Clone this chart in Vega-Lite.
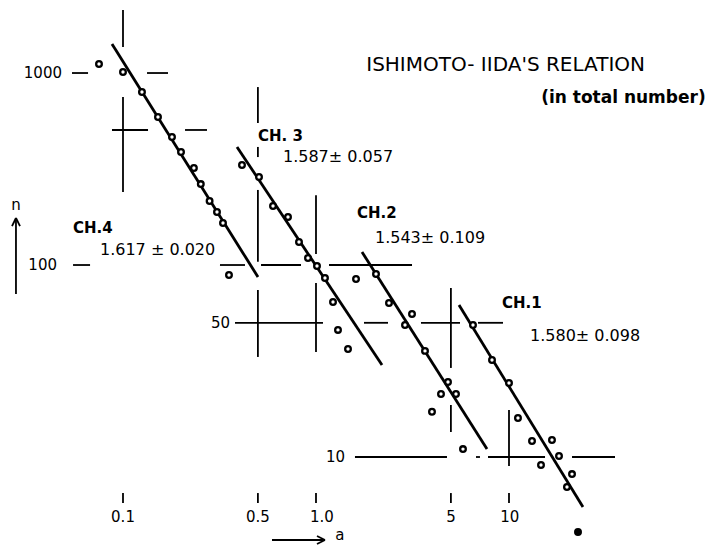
{
  "$schema": "https://vega.github.io/schema/vega-lite/v6.json",
  "width": 710,
  "height": 546,
  "autosize": {"type": "none"},
  "padding": 0,
  "background": "white",
  "config": {"view": {"stroke": null}},
  "datasets": {
    "grid": [
      {"a1": 0.1, "n1": 2128, "a2": 0.1, "n2": 1366},
      {"a1": 0.1, "n1": 750, "a2": 0.1, "n2": 240},
      {"a1": 0.0544, "n1": 1000, "a2": 0.0659, "n2": 1000},
      {"a1": 0.1332, "n1": 1000, "a2": 0.1711, "n2": 1000},
      {"a1": 0.0877, "n1": 505, "a2": 0.1348, "n2": 505},
      {"a1": 0.2096, "n1": 505, "a2": 0.2724, "n2": 505},
      {"a1": 0.5, "n1": 845, "a2": 0.5, "n2": 549},
      {"a1": 0.5, "n1": 412, "a2": 0.5, "n2": 365},
      {"a1": 0.5, "n1": 246, "a2": 0.5, "n2": 104},
      {"a1": 0.5, "n1": 74.1, "a2": 0.5, "n2": 33.2},
      {"a1": 1, "n1": 231, "a2": 1, "n2": 114},
      {"a1": 1, "n1": 80.6, "a2": 1, "n2": 35.2},
      {"a1": 0.0551, "n1": 100, "a2": 0.0675, "n2": 100},
      {"a1": 0.318, "n1": 100, "a2": 0.4286, "n2": 100},
      {"a1": 0.519, "n1": 100, "a2": 0.836, "n2": 100},
      {"a1": 1.168, "n1": 100, "a2": 3.144, "n2": 100},
      {"a1": 0.3805, "n1": 50, "a2": 1.087, "n2": 50},
      {"a1": 1.773, "n1": 50, "a2": 2.361, "n2": 50},
      {"a1": 3.499, "n1": 50, "a2": 5.574, "n2": 50},
      {"a1": 6.909, "n1": 50, "a2": 9.309, "n2": 50},
      {"a1": 5, "n1": 75.9, "a2": 5, "n2": 29.1},
      {"a1": 5, "n1": 18.66, "a2": 5, "n2": 13.5},
      {"a1": 10, "n1": 17.57, "a2": 10, "n2": 8.98},
      {"a1": 1.592, "n1": 10, "a2": 4.772, "n2": 10},
      {"a1": 6.745, "n1": 10, "a2": 7.073, "n2": 10},
      {"a1": 7.785, "n1": 10, "a2": 15.37, "n2": 10},
      {"a1": 21.21, "n1": 10, "a2": 35.42, "n2": 10},
      {"a1": 0.1, "n1": 6.49, "a2": 0.1, "n2": 5.76},
      {"a1": 0.5, "n1": 6.49, "a2": 0.5, "n2": 5.76},
      {"a1": 1, "n1": 6.49, "a2": 1, "n2": 5.76},
      {"a1": 5, "n1": 6.49, "a2": 5, "n2": 5.76},
      {"a1": 10, "n1": 6.49, "a2": 10, "n2": 5.76},
      {"a1": 0.02789, "n1": 175.7, "a2": 0.02789, "n2": 70.6},
      {"a1": 0.02789, "n1": 175.7, "a2": 0.0266, "n2": 159.6},
      {"a1": 0.02789, "n1": 175.7, "a2": 0.02926, "n2": 159.6},
      {"a1": 0.5916, "n1": 3.696, "a2": 1.113, "n2": 3.696},
      {"a1": 1.113, "n1": 3.696, "a2": 1.012, "n2": 3.877},
      {"a1": 1.113, "n1": 3.696, "a2": 1.012, "n2": 3.523}
    ],
    "fits": [
      {"ch": "CH.4", "a1": 0.0877, "n1": 1416, "a2": 0.5005, "n2": 86.6},
      {"ch": "CH.3", "a1": 0.3897, "n1": 411.7, "a2": 2.198, "n2": 30.15},
      {"ch": "CH.2", "a1": 1.731, "n1": 116.9, "a2": 7.691, "n2": 11.0},
      {"ch": "CH.1", "a1": 5.508, "n1": 61.9, "a2": 24.17, "n2": 5.49}
    ],
    "pts": [
      {"ch": "CH.4", "a": 0.0751, "n": 1114, "kind": "open"},
      {"ch": "CH.4", "a": 0.1, "n": 1012, "kind": "open"},
      {"ch": "CH.4", "a": 0.1254, "n": 796, "kind": "open"},
      {"ch": "CH.4", "a": 0.1518, "n": 590, "kind": "open"},
      {"ch": "CH.4", "a": 0.1794, "n": 464, "kind": "open"},
      {"ch": "CH.4", "a": 0.1998, "n": 387.7, "kind": "open"},
      {"ch": "CH.4", "a": 0.2330, "n": 320, "kind": "open"},
      {"ch": "CH.4", "a": 0.2530, "n": 264, "kind": "open"},
      {"ch": "CH.4", "a": 0.2810, "n": 215.4, "kind": "open"},
      {"ch": "CH.4", "a": 0.3069, "n": 188.8, "kind": "open"},
      {"ch": "CH.4", "a": 0.3297, "n": 165.5, "kind": "open"},
      {"ch": "CH.4", "a": 0.3541, "n": 88.7, "kind": "open"},
      {"ch": "CH.3", "a": 0.4136, "n": 331.7, "kind": "open"},
      {"ch": "CH.3", "a": 0.5067, "n": 287.3, "kind": "open"},
      {"ch": "CH.3", "a": 0.5988, "n": 202.9, "kind": "open"},
      {"ch": "CH.3", "a": 0.716, "n": 177.8, "kind": "open"},
      {"ch": "CH.3", "a": 0.8164, "n": 131.8, "kind": "open"},
      {"ch": "CH.3", "a": 0.9089, "n": 108.8, "kind": "open"},
      {"ch": "CH.3", "a": 1.012, "n": 98.8, "kind": "open"},
      {"ch": "CH.3", "a": 1.113, "n": 85.6, "kind": "open"},
      {"ch": "CH.3", "a": 1.225, "n": 64.2, "kind": "open"},
      {"ch": "CH.3", "a": 1.3, "n": 45.9, "kind": "open"},
      {"ch": "CH.3", "a": 1.465, "n": 36.5, "kind": "open"},
      {"ch": "CH.2", "a": 1.612, "n": 84.6, "kind": "open"},
      {"ch": "CH.2", "a": 2.046, "n": 89.8, "kind": "open"},
      {"ch": "CH.2", "a": 2.389, "n": 63.4, "kind": "open"},
      {"ch": "CH.2", "a": 3.144, "n": 55.6, "kind": "open"},
      {"ch": "CH.2", "a": 2.892, "n": 48.7, "kind": "open"},
      {"ch": "CH.2", "a": 3.671, "n": 35.7, "kind": "open"},
      {"ch": "CH.2", "a": 4.83, "n": 24.6, "kind": "open"},
      {"ch": "CH.2", "a": 4.443, "n": 21.3, "kind": "open"},
      {"ch": "CH.2", "a": 5.313, "n": 21.3, "kind": "open"},
      {"ch": "CH.2", "a": 3.99, "n": 17.2, "kind": "open"},
      {"ch": "CH.2", "a": 5.776, "n": 11.0, "kind": "open"},
      {"ch": "CH.1", "a": 6.508, "n": 48.7, "kind": "open"},
      {"ch": "CH.1", "a": 8.165, "n": 32.0, "kind": "open"},
      {"ch": "CH.1", "a": 10.0, "n": 24.3, "kind": "open"},
      {"ch": "CH.1", "a": 11.13, "n": 15.97, "kind": "open"},
      {"ch": "CH.1", "a": 13.16, "n": 12.12, "kind": "open"},
      {"ch": "CH.1", "a": 16.7, "n": 12.26, "kind": "open"},
      {"ch": "CH.1", "a": 18.16, "n": 10.12, "kind": "open"},
      {"ch": "CH.1", "a": 14.65, "n": 9.08, "kind": "open"},
      {"ch": "CH.1", "a": 21.21, "n": 8.15, "kind": "open"},
      {"ch": "CH.1", "a": 19.97, "n": 6.98, "kind": "open"},
      {"ch": "CH.1", "a": 22.78, "n": 4.07, "kind": "solid"}
    ],
    "ylabels": [
      {"a": 0.0483, "n": 1000, "text": "1000"},
      {"a": 0.0455, "n": 100, "text": "100"},
      {"a": 0.3584, "n": 50, "text": "50"},
      {"a": 1.413, "n": 10, "text": "10"}
    ],
    "xlabels": [
      {"a": 0.1, "n": 4.87, "text": "0.1"},
      {"a": 0.5, "n": 4.87, "text": "0.5"},
      {"a": 1.074, "n": 4.87, "text": "1.0"},
      {"a": 5, "n": 4.87, "text": "5"},
      {"a": 10.1, "n": 4.87, "text": "10"},
      {"a": 0.02789, "n": 205.4, "text": "n"},
      {"a": 1.33, "n": 3.925, "text": "a"}
    ],
    "chnames": [
      {"a": 0.0551, "n": 155.8, "text": "CH.4"},
      {"a": 0.5005, "n": 469.8, "text": "CH. 3"},
      {"a": 1.631, "n": 186.6, "text": "CH.2"},
      {"a": 9.2, "n": 63.4, "text": "CH.1"}
    ],
    "slopes": [
      {"a": 0.076, "n": 119.7, "text": "1.617 ± 0.020"},
      {"a": 0.6745, "n": 365, "text": "1.587± 0.057"},
      {"a": 2.021, "n": 138.2, "text": "1.543± 0.109"},
      {"a": 12.85, "n": 42.7, "text": "1.580± 0.098"}
    ],
    "title1": [{"a": 50.67, "n": 1101, "text": "ISHIMOTO- IIDA'S  RELATION"}],
    "title2": [{"a": 104.5, "n": 741, "text": "(in total number)"}]
  },
  "layer": [
    {
      "data": {"name": "grid"},
      "mark": {"type": "rule", "color": "black", "strokeWidth": 1.8},
      "encoding": {
        "x": {"field": "a1", "type": "quantitative", "scale": {"type": "log", "domain": [0.023052, 110.02], "nice": false}, "axis": null},
        "x2": {"field": "a2"},
        "y": {"field": "n1", "type": "quantitative", "scale": {"type": "log", "domain": [3.4393, 2400.5], "nice": false}, "axis": null},
        "y2": {"field": "n2"}
      }
    },
    {
      "data": {"name": "fits"},
      "mark": {"type": "rule", "color": "black", "strokeWidth": 2.8},
      "encoding": {
        "x": {"field": "a1", "type": "quantitative", "scale": {"type": "log", "domain": [0.023052, 110.02], "nice": false}, "axis": null},
        "x2": {"field": "a2"},
        "y": {"field": "n1", "type": "quantitative", "scale": {"type": "log", "domain": [3.4393, 2400.5], "nice": false}, "axis": null},
        "y2": {"field": "n2"}
      }
    },
    {
      "data": {"name": "pts"},
      "mark": {"type": "point", "shape": "circle", "size": 32, "strokeWidth": 2.3, "stroke": "black", "filled": true, "opacity": 1},
      "encoding": {
        "x": {"field": "a", "type": "quantitative", "scale": {"type": "log", "domain": [0.023052, 110.02], "nice": false}, "axis": null},
        "y": {"field": "n", "type": "quantitative", "scale": {"type": "log", "domain": [3.4393, 2400.5], "nice": false}, "axis": null},
        "fill": {"field": "kind", "type": "nominal", "scale": {"domain": ["open", "solid"], "range": ["white", "black"]}, "legend": null}
      }
    },
    {
      "data": {"name": "ylabels"},
      "mark": {"type": "text", "align": "right", "baseline": "middle", "font": "DejaVu Sans", "fontSize": 15, "color": "black"},
      "encoding": {
        "x": {"field": "a", "type": "quantitative", "scale": {"type": "log", "domain": [0.023052, 110.02], "nice": false}, "axis": null},
        "y": {"field": "n", "type": "quantitative", "scale": {"type": "log", "domain": [3.4393, 2400.5], "nice": false}, "axis": null},
        "text": {"field": "text"}
      }
    },
    {
      "data": {"name": "xlabels"},
      "mark": {"type": "text", "align": "center", "baseline": "middle", "font": "DejaVu Sans", "fontSize": 15, "color": "black"},
      "encoding": {
        "x": {"field": "a", "type": "quantitative", "scale": {"type": "log", "domain": [0.023052, 110.02], "nice": false}, "axis": null},
        "y": {"field": "n", "type": "quantitative", "scale": {"type": "log", "domain": [3.4393, 2400.5], "nice": false}, "axis": null},
        "text": {"field": "text"}
      }
    },
    {
      "data": {"name": "chnames"},
      "mark": {"type": "text", "align": "left", "baseline": "middle", "font": "DejaVu Sans", "fontSize": 15, "fontWeight": "bold", "color": "black"},
      "encoding": {
        "x": {"field": "a", "type": "quantitative", "scale": {"type": "log", "domain": [0.023052, 110.02], "nice": false}, "axis": null},
        "y": {"field": "n", "type": "quantitative", "scale": {"type": "log", "domain": [3.4393, 2400.5], "nice": false}, "axis": null},
        "text": {"field": "text"}
      }
    },
    {
      "data": {"name": "slopes"},
      "mark": {"type": "text", "align": "left", "baseline": "middle", "font": "DejaVu Sans", "fontSize": 16, "color": "black"},
      "encoding": {
        "x": {"field": "a", "type": "quantitative", "scale": {"type": "log", "domain": [0.023052, 110.02], "nice": false}, "axis": null},
        "y": {"field": "n", "type": "quantitative", "scale": {"type": "log", "domain": [3.4393, 2400.5], "nice": false}, "axis": null},
        "text": {"field": "text"}
      }
    },
    {
      "data": {"name": "title1"},
      "mark": {"type": "text", "align": "right", "baseline": "middle", "font": "DejaVu Sans", "fontSize": 20, "color": "black"},
      "encoding": {
        "x": {"field": "a", "type": "quantitative", "scale": {"type": "log", "domain": [0.023052, 110.02], "nice": false}, "axis": null},
        "y": {"field": "n", "type": "quantitative", "scale": {"type": "log", "domain": [3.4393, 2400.5], "nice": false}, "axis": null},
        "text": {"field": "text"}
      }
    },
    {
      "data": {"name": "title2"},
      "mark": {"type": "text", "align": "right", "baseline": "middle", "font": "DejaVu Sans", "fontSize": 17, "fontWeight": "bold", "color": "black"},
      "encoding": {
        "x": {"field": "a", "type": "quantitative", "scale": {"type": "log", "domain": [0.023052, 110.02], "nice": false}, "axis": null},
        "y": {"field": "n", "type": "quantitative", "scale": {"type": "log", "domain": [3.4393, 2400.5], "nice": false}, "axis": null},
        "text": {"field": "text"}
      }
    }
  ]
}
